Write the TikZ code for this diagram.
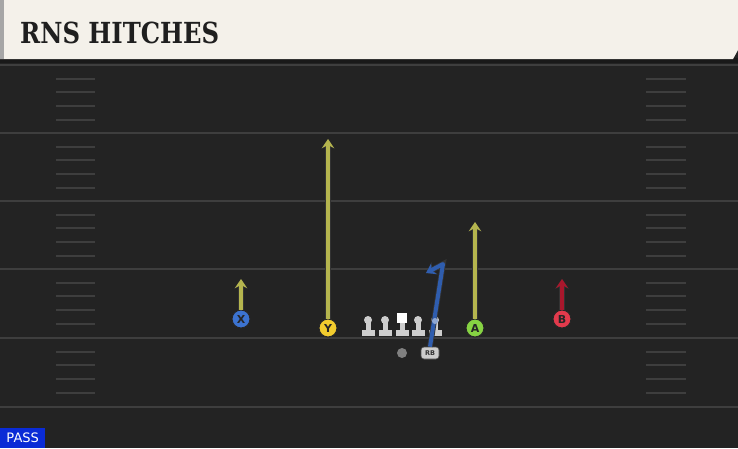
\documentclass[tikz,border=0pt]{standalone}
\usepackage{fontspec}
\setmainfont{DejaVu Sans}
\newfontfamily\titlefont{DejaVu Serif Condensed}
\usetikzlibrary{arrows.meta}
\definecolor{field}{HTML}{232323}
\definecolor{yline}{HTML}{3E3E3E}
\definecolor{cream}{HTML}{F4F1EA}
\definecolor{olive}{HTML}{B5B54E}
\definecolor{routeblue}{HTML}{2F5DAE}
\definecolor{routered}{HTML}{A8172C}
\definecolor{pblue}{HTML}{3C73D0}
\definecolor{pyellow}{HTML}{F2CC2E}
\definecolor{pgreen}{HTML}{86D343}
\definecolor{pred}{HTML}{E23A4C}
\definecolor{linegray}{HTML}{CDCDCD}
\definecolor{passblue}{HTML}{0A2BD6}
\tikzset{
  yardline/.style={draw=yline, line width=2pt},
  hashmark/.style={draw=yline, line width=2pt},
  player/.style={circle, draw=black!85, line width=1pt, minimum size=18pt, inner sep=0pt, font=\fontsize{11}{11}\selectfont\bfseries, text=black!85},
  route/.style={line width=4pt, -{Stealth[length=9pt,width=12pt]}, preaction={draw=black!80, line width=5.6pt, -{Stealth[length=10pt,width=14pt]}}},
  lineman/.style={fill=linegray},
}
\begin{document}
\begin{tikzpicture}[x=1pt,y=-1pt]
\useasboundingbox (0,0) rectangle (738,448);
\fill[field] (0,0) rectangle (738,448);
% yard lines
\foreach \y in {65,133,201,269,338,407} {
  \draw[yardline] (0,\y) -- (738,\y);
}
% hash marks
\foreach \b in {65,133,201,269,338} {
  \foreach \o in {14,27,41,55} {
    \draw[hashmark] (56,\b+\o) -- (95,\b+\o);
    \draw[hashmark] (646,\b+\o) -- (686,\b+\o);
  }
}
% header
\fill[black!90] (0,58) rectangle (738,63);
\fill[cream] (0,0) -- (738,0) -- (738,50) -- (733,59) -- (0,59) -- cycle;
\fill[black!35] (0,0) rectangle (4,59);
\node[anchor=base west, inner sep=0pt, font=\titlefont\bfseries\fontsize{29}{29}\selectfont, text=black!88, xscale=0.93] (title) at (20,43) {RNS HITCHES};
% players
\node[player, fill=pblue] (X) at (241,319) {X};
\node[player, fill=pyellow] (Y) at (328,328) {Y};
\node[player, fill=pgreen] (A) at (475,328) {A};
\node[player, fill=pred] (B) at (562,319) {B};
% routes
\coordinate (Xend) at (241,279);
\coordinate (Yend) at (328,139);
\coordinate (Aend) at (475,222);
\coordinate (Bend) at (562,279);
\draw[route, draw=olive] (X.north) -- (Xend);
\draw[route, draw=olive] (Y.north) -- (Yend);
\draw[route, draw=olive] (A.north) -- (Aend);
\draw[route, draw=routered] (B.north) -- (Bend);
% linemen
\foreach \n/\x in {LT/368,LG/385,RG/418,RT/435} {
  \fill[lineman] (\x-6.5,330) rectangle (\x+6.5,336);
  \fill[lineman] (\x-2.5,320) rectangle (\x+2.5,331);
  \fill[lineman] (\x,320) circle (4pt);
  \coordinate (\n) at (\x,321);
}
\fill[lineman] (402-6.5,330) rectangle (402+6.5,336);
\fill[lineman] (402-2.5,322) rectangle (402+2.5,331);
\node[fill=white, minimum size=10pt, inner sep=0pt] (C) at (401.5,317.5) {};
% QB and RB
\node[circle, fill=black!50, minimum size=10pt, inner sep=0pt] (QB) at (402,353) {};
\node[rounded corners=3pt, fill=linegray, draw=black!70, line width=0.6pt, minimum width=18pt, minimum height=12pt, inner sep=0pt, font=\fontsize{6.5}{6.5}\selectfont\bfseries, text=black!80] (RB) at (430,353) {RB};
\coordinate (rb1) at (443,264);
\coordinate (rbend) at (426,273);
\draw[route, draw=routeblue, line join=round] (RB.north) -- (rb1) -- (rbend);
\fill[routeblue!55!white] (RT) circle (3pt);
% PASS tag
\node[anchor=south west, fill=passblue, text=white, inner sep=0pt, minimum width=45pt, minimum height=20pt, font=\fontsize{13}{13}\selectfont] (pass) at (0,448) {PASS};
\end{tikzpicture}
\end{document}
